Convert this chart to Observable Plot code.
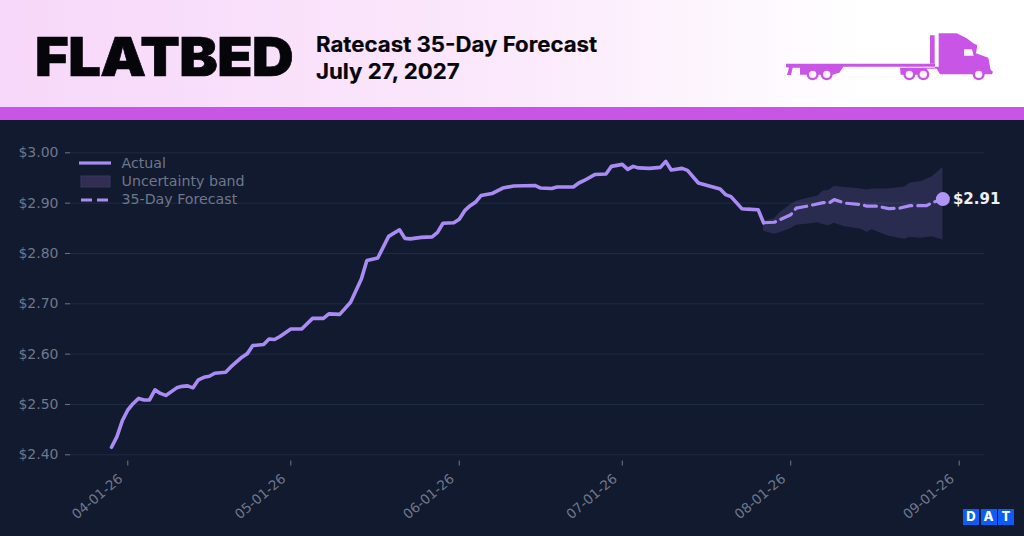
<!DOCTYPE html>
<html>
<head>
<meta charset="utf-8">
<script src="https://cdn.jsdelivr.net/npm/d3@7"></script>
<script src="https://cdn.jsdelivr.net/npm/@observablehq/plot@0.6"></script>
<style>
html,body{margin:0;padding:0;background:#111a2e;width:1024px;height:536px;overflow:hidden}
#header{position:absolute;left:0;top:0;width:1024px;height:107px;background:linear-gradient(90deg,#f7d7f9 0%,#fbe9fc 50%,#fff 85%);font-family:Inter,sans-serif;color:#05050a}
#brand{position:absolute;left:34.5px;top:25.5px;font-weight:900;font-size:54px;line-height:62px;letter-spacing:-.5px;transform:scaleX(1.068);transform-origin:0 50%;white-space:nowrap;-webkit-text-stroke:.7px #05050a}
#sub{position:absolute;left:316px;top:31px;font-weight:700;font-size:21.5px;line-height:26.5px;letter-spacing:0;transform:scaleX(1.033);transform-origin:0 50%;white-space:nowrap;-webkit-text-stroke:.2px #05050a}
#truck{position:absolute;left:740px;top:20px}
#bar{position:absolute;left:0;top:107px;width:1024px;height:13px;background:#c955e6}
#chart{position:absolute;left:0;top:120px}
#legend{position:absolute;left:0;top:0;font:14.2px "DejaVu Sans",sans-serif;color:#6f778c}
#legend div{position:absolute;left:121.5px;white-space:nowrap;line-height:16px}
#legend svg{position:absolute;left:78px;overflow:visible}
#dat{position:absolute;left:963px;top:509px;display:flex;gap:1.5px}
#dat span{width:16px;height:15.5px;background:#0f5cf5;color:#fff;font:800 13px/15.5px Inter,sans-serif;text-align:center}
</style>
</head>
<body>
<div id="header">
  <div id="brand">FLATBED</div>
  <div id="sub">Ratecast 35-Day Forecast<br>July 27, 2027</div>
  <svg id="truck" width="284" height="110" viewBox="0 0 852 330">
    <g fill="#c955e6">
      <path d="M138 131H585V140H310L298 158L278 164H180V143H158L153 165H141L147 143L138 141Z"/>
      <path d="M480 143H585V131H570V46H584V140H596V40H650L680 55L700 70L712 76L708 100L745 113L752 150L759 155L756 163H600L590 146L560 146L555 164H482Z"/>
      <circle cx="218" cy="163" r="18"/><circle cx="260" cy="163" r="18"/>
      <circle cx="508" cy="163" r="18"/><circle cx="550" cy="163" r="18"/>
      <circle cx="716" cy="163" r="18"/>
    </g>
    <g fill="#fdf4fe">
      <circle cx="218" cy="163" r="11"/><circle cx="260" cy="163" r="11"/>
      <circle cx="508" cy="163" r="11"/><circle cx="550" cy="163" r="11"/>
      <circle cx="716" cy="163" r="11"/>
      <path d="M672 88H696L701 107H672Z"/>
    </g>
  </svg>
</div>
<div id="bar"></div>
<div id="chart"></div>
<div id="legend">
  <svg style="top:163px" width="34" height="1"><line x1="1" x2="33" y1="0" y2="0" stroke="#a98bf3" stroke-width="3.2"/></svg>
  <div style="top:154.5px">Actual</div>
  <svg style="top:175px" width="34" height="12"><rect x="3" y="1" width="29" height="11" fill="#322d52" stroke="#3b3760" stroke-width="1"/></svg>
  <div style="top:172.5px">Uncertainty band</div>
  <svg style="top:199.5px" width="34" height="1"><line x1="3" x2="33" y1="0" y2="0" stroke="#a98bf3" stroke-width="3.2" stroke-dasharray="11 5"/></svg>
  <div style="top:190.5px">35-Day Forecast</div>
</div>
<div id="dat"><span>D</span><span>A</span><span>T</span></div>
<script>
const actualDates = ["2026-03-29","2026-03-30","2026-03-31","2026-04-01","2026-04-02","2026-04-03","2026-04-04","2026-04-05","2026-04-06","2026-04-07","2026-04-08","2026-04-10","2026-04-11","2026-04-12","2026-04-13","2026-04-14","2026-04-15","2026-04-16","2026-04-17","2026-04-19","2026-04-20","2026-04-22","2026-04-23","2026-04-24","2026-04-26","2026-04-27","2026-04-28","2026-04-29","2026-05-01","2026-05-03","2026-05-05","2026-05-07","2026-05-08","2026-05-10","2026-05-12","2026-05-14","2026-05-15","2026-05-17","2026-05-19","2026-05-21","2026-05-22","2026-05-23","2026-05-25","2026-05-27","2026-05-28","2026-05-29","2026-05-31","2026-06-01","2026-06-02","2026-06-03","2026-06-04","2026-06-05","2026-06-07","2026-06-09","2026-06-11","2026-06-15","2026-06-16","2026-06-18","2026-06-19","2026-06-22","2026-06-23","2026-06-24","2026-06-26","2026-06-28","2026-06-29","2026-07-01","2026-07-02","2026-07-03","2026-07-04","2026-07-06","2026-07-08","2026-07-09","2026-07-10","2026-07-12","2026-07-13","2026-07-15","2026-07-16","2026-07-19","2026-07-20","2026-07-21","2026-07-23","2026-07-24","2026-07-26","2026-07-27"];
const actualValues = [2.415,2.436,2.468,2.489,2.502,2.512,2.509,2.509,2.529,2.522,2.518,2.533,2.536,2.537,2.533,2.549,2.554,2.556,2.562,2.564,2.575,2.594,2.601,2.617,2.619,2.630,2.629,2.635,2.650,2.650,2.671,2.671,2.680,2.679,2.703,2.750,2.786,2.791,2.834,2.847,2.830,2.829,2.832,2.833,2.842,2.860,2.861,2.868,2.885,2.895,2.902,2.915,2.919,2.930,2.934,2.935,2.930,2.929,2.932,2.932,2.940,2.945,2.957,2.958,2.973,2.977,2.967,2.973,2.970,2.969,2.971,2.983,2.966,2.969,2.965,2.940,2.937,2.928,2.917,2.913,2.889,2.888,2.887,2.861];
const forecastDates = ["2026-07-27","2026-07-29","2026-08-01","2026-08-02","2026-08-04","2026-08-07","2026-08-08","2026-08-09","2026-08-11","2026-08-14","2026-08-15","2026-08-17","2026-08-19","2026-08-21","2026-08-23","2026-08-26","2026-08-27","2026-08-29"];
const forecastValues = [2.861,2.862,2.877,2.890,2.894,2.901,2.900,2.907,2.900,2.897,2.894,2.894,2.889,2.890,2.895,2.895,2.901,2.908];
const bandDates = ["2026-07-27","2026-07-29","2026-07-30","2026-08-01","2026-08-02","2026-08-04","2026-08-06","2026-08-07","2026-08-08","2026-08-09","2026-08-11","2026-08-14","2026-08-15","2026-08-16","2026-08-19","2026-08-22","2026-08-23","2026-08-25","2026-08-27","2026-08-29"];
const bandUpper = [2.864,2.869,2.881,2.897,2.903,2.909,2.914,2.924,2.925,2.933,2.931,2.928,2.926,2.928,2.928,2.932,2.940,2.943,2.952,2.971];
const bandLower = [2.844,2.838,2.841,2.849,2.856,2.858,2.861,2.857,2.855,2.860,2.853,2.848,2.842,2.847,2.834,2.828,2.832,2.830,2.833,2.827];
const yTicks = [2.4,2.5,2.6,2.7,2.8,2.9,3.0];
const xTicks = ["2026-04-01","2026-05-01","2026-06-01","2026-07-01","2026-08-01","2026-09-01"];
const lastLabel = "$2.91";

const d = s => new Date(s + "T00:00:00Z");
const actual = actualDates.map((t,i)=>({t:d(t),v:actualValues[i]}));
const forecast = forecastDates.map((t,i)=>({t:d(t),v:forecastValues[i]}));
const band = bandDates.map((t,i)=>({t:d(t),hi:bandUpper[i],lo:bandLower[i]}));
const last = forecast[forecast.length-1];
const fmtDate = d3.utcFormat("%m-%d-%y");
const purple = "#a98bf3", muted = "#6f778c";

const plot = Plot.plot({
  width:1024, height:416,
  marginLeft:70, marginRight:40, marginTop:20, marginBottom:75.5,
  style:{background:"transparent",fontFamily:"'DejaVu Sans',sans-serif"},
  x:{type:"utc",domain:[d(xTicks[0]),d(xTicks[5])],range:[127.3,958.7]},
  y:{domain:[2.4,3.0],range:[334.3,32.3]},
  marks:[
    Plot.gridY(yTicks,{stroke:"#1f2c44",strokeOpacity:1,strokeWidth:1}),
    Plot.axisY(yTicks,{tickFormat:v=>"$"+v.toFixed(2),tickSize:5,tickPadding:7,stroke:muted,fill:muted,fontSize:14,label:null}),
    Plot.axisX(xTicks.map(d),{tickSize:5,fill:"none",stroke:muted,label:null}),
    Plot.axisX(xTicks.map(d),{tickFormat:fmtDate,tickRotate:-40,tickSize:0,tickPadding:11,dx:-7,dy:5,stroke:"none",fill:muted,fontSize:13.5,label:null}),
    Plot.areaY(band,{x:"t",y1:"lo",y2:"hi",fill:"#a98bf3",fillOpacity:.17}),
    Plot.line(actual,{x:"t",y:"v",stroke:purple,strokeWidth:3.6}),
    Plot.line(forecast,{x:"t",y:"v",stroke:purple,strokeWidth:3.2,strokeDasharray:"12 6"}),
    Plot.dot([last],{x:"t",y:"v",r:7,fill:"#b094f6",stroke:"none"}),
    Plot.text([last],{x:"t",y:"v",text:()=>lastLabel,dx:10,dy:0,textAnchor:"start",fill:"#eef0f6",fontSize:15,fontWeight:"bold"})
  ]
});
document.getElementById("chart").appendChild(plot);
</script>
</body>
</html>
